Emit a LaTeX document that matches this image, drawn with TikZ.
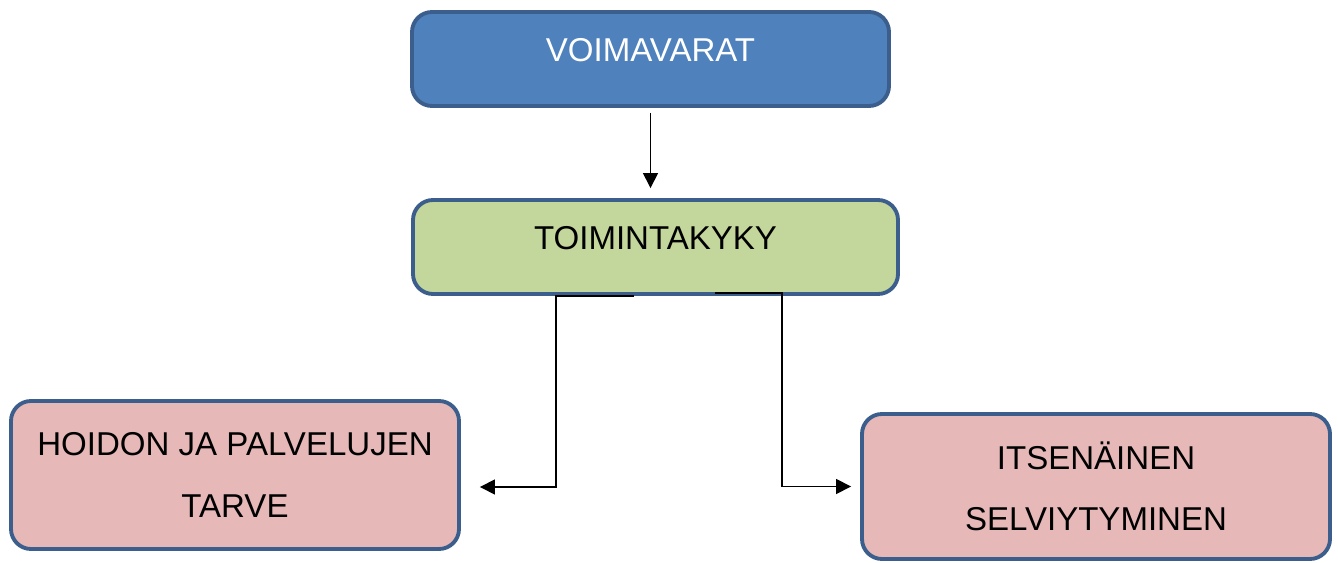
\documentclass[tikz,border=0pt]{standalone}
\usepackage{fontspec}
\setmainfont{Liberation Sans}
\usetikzlibrary{arrows.meta}
\definecolor{boxline}{HTML}{3B5E8C}
\definecolor{voimafill}{HTML}{4F81BD}
\definecolor{toimfill}{HTML}{C3D69B}
\definecolor{tarvefill}{HTML}{E6B9B8}
\begin{document}
\begin{tikzpicture}[
    box/.style={draw=boxline, line width=2.2pt, rounded corners=0.4cm,
      align=center, font=\fontsize{18.8}{35}\selectfont},
    onebox/.style={box, text height=0.47cm, text depth=0.38cm},
    arr/.style={-{Triangle[length=0.3cm,width=0.3cm]}, line width=0.8pt}]
  \useasboundingbox (0,0) rectangle (26.76,11.26);
  % Top row
  \node[onebox, fill=voimafill, text=white, minimum width=9.54cm, minimum height=1.88cm]
    (voima) at (13.01,10.08) {VOIMAVARAT};
  \node[onebox, fill=toimfill, minimum width=9.70cm, minimum height=1.88cm]
    (toim) at (13.11,6.32) {TOIMINTAKYKY};
  % Bottom row
  \node[box, fill=tarvefill, minimum width=8.96cm, minimum height=2.96cm]
    (tarve) at (4.70,1.76) {HOIDON JA PALVELUJEN\\TARVE};
  \node[box, fill=tarvefill, minimum width=9.36cm, minimum height=2.90cm]
    (itse) at (21.92,1.53) {ITSENÄINEN\\SELVIYTYMINEN};
  % Connectors
  \draw[arr, shorten <=0.1cm, shorten >=0.2cm] (voima.south) -- (voima.south |- toim.north);
  \coordinate (lstart) at ([xshift=-0.43cm]toim.south);
  \coordinate (lend) at ([xshift=0.38cm,yshift=-0.24cm]tarve.east);
  \draw[arr] (lstart) -- ++(-1.56,0) |- (lend);
  \coordinate (rstart) at ([xshift=1.19cm,yshift=0.06cm]toim.south);
  \coordinate (rend) at ([xshift=-0.18cm]itse.west);
  \draw[arr] (rstart) -- ++(1.34,0) |- (rend);
\end{tikzpicture}
\end{document}
